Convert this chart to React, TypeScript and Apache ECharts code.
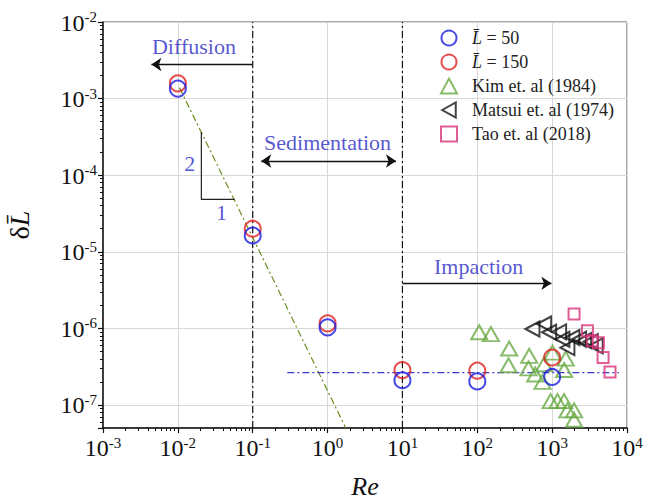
import React, { useEffect, useRef } from "react";
import * as echarts from "echarts";

const FONT = "Liberation Serif, Times New Roman, serif";

// Simulation data (Re, delta L)
const simRe = [0.01, 0.1, 1, 10, 100, 1000];
const l50Delta = [1.35e-3, 1.63e-5, 1.03e-6, 2.1e-7, 2.03e-7, 2.32e-7];
const l150Delta = [1.58e-3, 2.0e-5, 1.16e-6, 2.85e-7, 2.8e-7, 4.16e-7];

// Kim et. al (1984)
const kimRe = [106, 152, 267, 261, 494, 483, 593, 782, 743, 1010, 1445, 1520, 955, 1180, 1445, 1600, 1963, 1963];
const kimDelta = [8.9e-7, 8.4e-7, 5.45e-7, 3.3e-7, 4.37e-7, 3.0e-7, 2.5e-7, 3.4e-7, 2.0e-7, 4.83e-7, 2.86e-7, 4.03e-7, 1.12e-7, 1.12e-7, 1.12e-7, 8.5e-8, 8.5e-8, 6.4e-8];

// Matsui et. al (1974)
const matsuiRe = [546, 782, 912, 1240, 1371, 1600, 1864, 2290, 2670, 3280, 3820];
const matsuiDelta = [9.8e-7, 1.14e-6, 8.9e-7, 9.0e-7, 7.2e-7, 5.6e-7, 7.6e-7, 7.2e-7, 6.9e-7, 6.7e-7, 5.9e-7];

// Tao et. al (2018)
const taoRe = [1963, 2960, 3440, 4150, 4790, 5930];
const taoDelta = [1.54e-6, 9.3e-7, 6.9e-7, 6.5e-7, 4.17e-7, 2.7e-7];

// Reference lines
const regimeBoundsRe = [0.1, 10];
const slopeLineRe = [0.0105, 1.75];
const slopeLineDelta = [1.39e-3, 5e-8];
const plateauRe = [0.29, 7800];
const plateauDelta = 2.64e-7;
const slopeTriRe = [0.0206, 0.0206, 0.0574];
const slopeTriDelta = [3.66e-4, 4.82e-5, 4.82e-5];

// Annotations
const annotTexts = ["Diffusion", "Sedimentation", "Impaction", "2", "1"];
const annotRe = [0.0164, 1.0, 104, 0.0144, 0.0382];
const annotDelta = [4.86e-3, 2.71e-4, 6.4e-6, 1.43e-4, 3.29e-5];
const arrowSingle = [
  [[0.1, 2.79e-3], [0.00443, 2.79e-3]],
  [[10, 3.87e-6], [977, 3.87e-6]],
];
const arrowDouble = [[[0.13, 1.53e-4], [8.2, 1.53e-4]]];

const xMin = 1e-3, xMax = 1e4, yMin = 5e-8, yMax = 1e-2;

const seriesNames = ["L\u0304 = 50", "L\u0304 = 150", "Kim et. al (1984)", "Matsui et. al (1974)", "Tao et. al (2018)"];

function minorTicks(lo: number, hi: number): number[] {
  const out: number[] = [];
  for (let n = -9; n <= 5; n++) {
    for (let k = 2; k <= 9; k++) {
      const v = k * Math.pow(10, n);
      if (v >= lo * 0.999 && v <= hi * 1.001) out.push(v);
    }
  }
  return out;
}

const pairs = (xs: number[], ys: number[]) => xs.map((x, i) => [x, ys[i]]);

const labelFmt = (v: number) => {
  const e = Math.log10(v);
  const r = Math.round(e);
  if (Math.abs(e - r) > 1e-6) return "";
  return `{b|10}{s|${r}}`;
};

const labelRich = {
  b: { fontSize: 24, fontFamily: FONT, color: "#111", verticalAlign: "bottom" },
  s: { fontSize: 15, fontFamily: FONT, color: "#111", verticalAlign: "bottom", padding: [0, 0, 10, 0] },
};

function hollow(color: string) {
  return { color: "rgba(255,255,255,0)", borderColor: color, borderWidth: 2 };
}

export default function App() {
  const ref = useRef<HTMLDivElement>(null);
  useEffect(() => {
    document.body.style.margin = "0";
    const chart = echarts.init(ref.current!, null, { renderer: "svg" });
    const dashDot = [7, 3, 2, 3];
    const option: any = {
      animation: false,
      backgroundColor: "#fff",
      textStyle: { fontFamily: FONT },
      grid: {
        left: 103,
        right: 28,
        top: 22,
        bottom: 72,
        show: true,
        borderColor: "#555",
        borderWidth: 1,
        containLabel: false,
        outerBoundsMode: "none",
      },
      legend: {
        data: seriesNames,
        orient: "vertical",
        left: 440,
        top: 29,
        padding: 0,
        itemWidth: 16,
        itemHeight: 15,
        itemGap: 6,
        textStyle: {
          fontFamily: FONT,
          fontSize: 18,
          color: "#222",
          padding: [0, 0, 0, 10],
          rich: { i: { fontFamily: FONT, fontSize: 18, fontStyle: "italic", color: "#222" } },
        },
        formatter: (name: string) => (name.startsWith("L\u0304") ? `{i|L\u0304}${name.slice(2)}` : name),
      },
      xAxis: [
        {
          type: "log",
          min: xMin,
          max: xMax,
          logBase: 10,
          name: "Re",
          nameLocation: "middle",
          nameGap: 45,
          nameTextStyle: { fontFamily: FONT, fontSize: 26, fontStyle: "italic", color: "#111" },
          axisLine: { lineStyle: { color: "#111", width: 1.5 } },
          axisTick: { length: 5, lineStyle: { color: "#111", width: 1.2 } },
          axisLabel: { formatter: labelFmt, rich: labelRich, margin: 7 },
          splitLine: { show: true, lineStyle: { color: "#d8d8d8", width: 1 } },
        },
        {
          type: "log",
          min: xMin,
          max: xMax,
          position: "bottom",
          axisLine: { show: false },
          axisLabel: { show: false },
          splitLine: { show: false },
          axisTick: { show: true, length: 3, customValues: minorTicks(xMin, xMax), lineStyle: { color: "#111", width: 1 } },
        },
      ],
      yAxis: [
        {
          type: "log",
          min: yMin,
          max: yMax,
          logBase: 10,
          name: "{d|δ}{i|L\u0304}",
          nameLocation: "middle",
          nameRotate: 90,
          nameGap: 70,
          nameTextStyle: {
            fontFamily: FONT,
            fontSize: 28,
            color: "#111",
            rich: {
              d: { fontFamily: FONT, fontSize: 28, color: "#111" },
              i: { fontFamily: FONT, fontSize: 28, fontStyle: "italic", color: "#111" },
            },
          },
          axisLine: { lineStyle: { color: "#111", width: 1.5 } },
          axisTick: { length: 5, lineStyle: { color: "#111", width: 1.2 } },
          axisLabel: { formatter: labelFmt, rich: labelRich, margin: 6 },
          splitLine: { show: true, lineStyle: { color: "#d8d8d8", width: 1 } },
        },
        {
          type: "log",
          min: yMin,
          max: yMax,
          position: "left",
          offset: 0,
          axisLine: { show: false },
          axisLabel: { show: false },
          splitLine: { show: false },
          axisTick: { show: true, length: 3, customValues: minorTicks(yMin, yMax), lineStyle: { color: "#111", width: 1 } },
        },
      ],
      series: [
        ...regimeBoundsRe.map((re) => ({
          type: "line",
          data: [[re, yMin], [re, yMax]],
          symbol: "none",
          silent: true,
          lineStyle: { color: "#111", width: 1.2, type: dashDot },
          z: 1,
        })),
        {
          type: "line",
          data: pairs(slopeLineRe, slopeLineDelta),
          symbol: "none",
          silent: true,
          lineStyle: { color: "#6b8e23", width: 1.2, type: dashDot },
          z: 1,
        },
        {
          type: "line",
          data: plateauRe.map((r) => [r, plateauDelta]),
          symbol: "none",
          silent: true,
          lineStyle: { color: "#3a3acc", width: 1.3, type: dashDot },
          z: 1,
        },
        {
          type: "line",
          data: pairs(slopeTriRe, slopeTriDelta),
          symbol: "none",
          silent: true,
          lineStyle: { color: "#222", width: 1.2 },
          z: 1,
        },
        {
          type: "lines",
          coordinateSystem: "cartesian2d",
          data: arrowSingle.map((c) => ({ coords: c })),
          symbol: ["none", "arrow"],
          symbolSize: 10,
          silent: true,
          lineStyle: { color: "#111", width: 1.4, opacity: 1 },
          z: 3,
        },
        {
          type: "lines",
          coordinateSystem: "cartesian2d",
          data: arrowDouble.map((c) => ({ coords: c })),
          symbol: ["arrow", "arrow"],
          symbolSize: 10,
          silent: true,
          lineStyle: { color: "#111", width: 1.4, opacity: 1 },
          z: 3,
        },
        {
          type: "scatter",
          data: annotTexts.map((t, i) => ({ name: t, value: [annotRe[i], annotDelta[i]] })),
          symbolSize: 0,
          silent: true,
          label: { show: true, position: "inside", formatter: "{b}", color: "#2a2ac4", fontSize: 22, fontFamily: FONT },
          z: 4,
        },
        {
          name: seriesNames[2],
          type: "scatter",
          data: pairs(kimRe, kimDelta),
          symbol: "triangle",
          symbolSize: [16, 14],
          itemStyle: hollow("#6aaa45"),
          z: 5,
        },
        {
          name: seriesNames[3],
          type: "scatter",
          data: pairs(matsuiRe, matsuiDelta),
          symbol: "path://M0,5L9,0L9,10Z",
          symbolSize: [14, 15],
          itemStyle: hollow("#111"),
          z: 5,
        },
        {
          name: seriesNames[4],
          type: "scatter",
          data: pairs(taoRe, taoDelta),
          symbol: "rect",
          symbolSize: 11,
          itemStyle: hollow("#d8337a"),
          z: 5,
        },
        {
          name: seriesNames[1],
          type: "scatter",
          data: pairs(simRe, l150Delta),
          symbol: "circle",
          symbolSize: 16,
          itemStyle: hollow("#e02020"),
          z: 6,
        },
        {
          name: seriesNames[0],
          type: "scatter",
          data: pairs(simRe, l50Delta),
          symbol: "circle",
          symbolSize: 16,
          itemStyle: hollow("#1a1ae0"),
          z: 7,
        },
      ],
    };
    chart.setOption(option);
    return () => chart.dispose();
  }, []);
  return <div ref={ref} style={{ width: 655, height: 500 }} />;
}
